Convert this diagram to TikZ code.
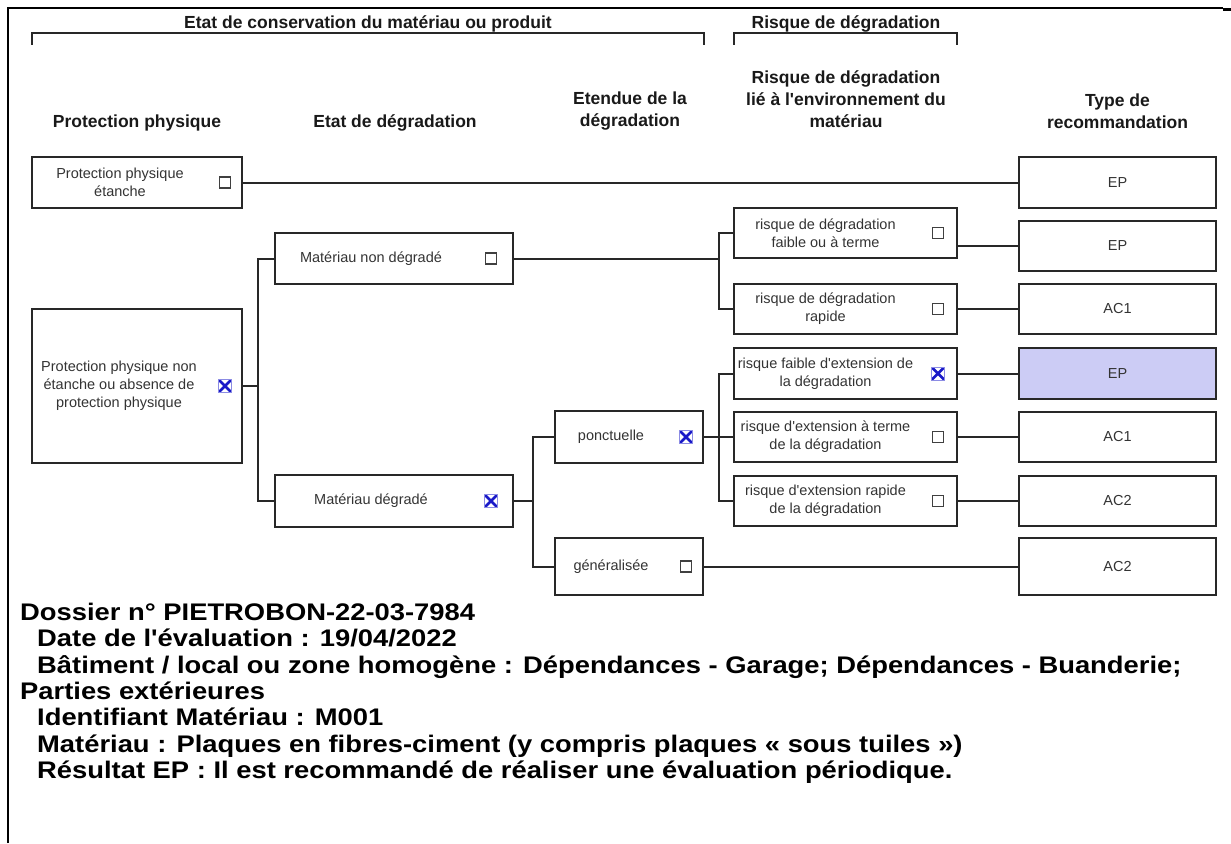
\documentclass[tikz,border=0pt]{standalone}
\usepackage{fontspec}
\setmainfont{Liberation Sans}[Ligatures=TeXOff]
\newfontfamily\infofont{Liberation Sans}[FakeStretch=1.14]
\definecolor{chosen}{RGB}{204,204,245}
\definecolor{edge}{RGB}{40,40,40}
\definecolor{tick}{RGB}{25,25,200}

\begin{document}
\begin{tikzpicture}[x=1pt,y=-1pt,
  box/.style={draw=edge, line width=2pt, inner sep=0, font=\fontsize{14.5}{18}\selectfont, text=black!80},
  boxtext/.style={align=center, inner sep=0, font=\fontsize{14.5}{18}\selectfont, text=black!80},
  head/.style={align=center, inner sep=0, font=\bfseries\fontsize{17.5}{22}\selectfont, text=black!90},
  chk/.style={draw=black!75, line width=1.2pt, minimum size=11, inner sep=0},
  chkx/.style={draw=tick!50, line width=1pt, minimum size=13, inner sep=0,
    path picture={\draw[tick, line width=2.8pt] (path picture bounding box.north west) -- (path picture bounding box.south east)
      (path picture bounding box.north east) -- (path picture bounding box.south west);}},
  conn/.style={draw=edge, line width=2pt},
  info/.style={align=left, inner sep=0, font=\infofont\bfseries\fontsize{24}{26.3}\selectfont}
]

\useasboundingbox (0,0) rectangle (1231,843);

\draw[black, line width=2pt] (8,843) -- (8,8) -- (1223,8);
\draw[black, line width=3pt] (1223,9.5) -- (1231,9.5);

\node[head, anchor=base] (cons) at (368,29) {Etat de conservation du matériau ou produit};
\node[head, anchor=base] (risk) at (846,29) {Risque de dégradation};
\draw[conn] (32,45) |- (704,33) -- (704,45);
\draw[conn] (734,45) |- (957,33) -- (957,45);

\node[head] (h1) at (137,122.5) {Protection physique};
\node[head] (h2) at (395,122.5) {Etat de dégradation};
\node[head] (h3) at (630,111.5) {Etendue de la\\dégradation};
\node[head] (h4) at (846,99) {Risque de dégradation\\lié à l'environnement du\\matériau};
\node[head] (h5) at (1117.5,111.5) {Type de\\recommandation};

\node[box, minimum width=210, minimum height=51] (ppE) at (137,182.5) {};
\node[boxtext] (ppEtxt) at ([xshift=-17]ppE.center) {Protection physique\\étanche};
\node[chk] (ppEchk) at ([xshift=-18]ppE.east) {};

\node[box, minimum width=210, minimum height=154] (ppN) at (137,386) {};
\node[boxtext] (ppNtxt) at ([xshift=-18]ppN.center) {Protection physique non\\étanche ou absence de\\protection physique};
\node[chkx] (ppNchk) at ([xshift=-18]ppN.east) {};

\node[box, minimum width=238, minimum height=51] (mnd) at (394,258.5) {};
\node[boxtext] (mndtxt) at ([xshift=-23]mnd.center) {Matériau non dégradé};
\node[chk] (mndchk) at ([xshift=-23]mnd.east) {};

\node[box, minimum width=238, minimum height=52] (md) at (394,501) {};
\node[boxtext] (mdtxt) at ([xshift=-23]md.center) {Matériau dégradé};
\node[chkx] (mdchk) at ([xshift=-23]md.east) {};

\node[box, minimum width=148, minimum height=52] (ponc) at (629,437) {};
\node[boxtext] (ponctxt) at ([xshift=-18]ponc.center) {ponctuelle};
\node[chkx] (poncchk) at ([xshift=-18]ponc.east) {};

\node[box, minimum width=148, minimum height=57] (gen) at (629,566.5) {};
\node[boxtext] (gentxt) at ([xshift=-18]gen.center) {généralisée};
\node[chk] (genchk) at ([xshift=-18]gen.east) {};

\node[box, minimum width=223, minimum height=50] (r1) at (845.5,233) {};
\node[boxtext] (r1txt) at ([xshift=-20]r1.center) {risque de dégradation\\faible ou à terme};
\node[chk] (r1chk) at ([xshift=-20]r1.east) {};

\node[box, minimum width=223, minimum height=50] (r2) at (845.5,309) {};
\node[boxtext] (r2txt) at ([xshift=-20]r2.center) {risque de dégradation\\rapide};
\node[chk] (r2chk) at ([xshift=-20]r2.east) {};

\node[box, minimum width=223, minimum height=51] (r3) at (845.5,373.5) {};
\node[boxtext] (r3txt) at ([xshift=-20]r3.center) {risque faible d'extension de\\la dégradation};
\node[chkx] (r3chk) at ([xshift=-20]r3.east) {};

\node[box, minimum width=223, minimum height=50] (r4) at (845.5,437) {};
\node[boxtext] (r4txt) at ([xshift=-20]r4.center) {risque d'extension à terme\\de la dégradation};
\node[chk] (r4chk) at ([xshift=-20]r4.east) {};

\node[box, minimum width=223, minimum height=50] (r5) at (845.5,501) {};
\node[boxtext] (r5txt) at ([xshift=-20]r5.center) {risque d'extension rapide\\de la dégradation};
\node[chk] (r5chk) at ([xshift=-20]r5.east) {};

\node[box, minimum width=197, minimum height=51] (t1) at (1117.5,182.5) {EP};
\node[box, minimum width=197, minimum height=50] (t2) at (1117.5,246) {EP};
\node[box, minimum width=197, minimum height=50] (t3) at (1117.5,309) {AC1};
\node[box, minimum width=197, minimum height=51, fill=chosen] (t4) at (1117.5,373.5) {EP};
\node[box, minimum width=197, minimum height=50] (t5) at (1117.5,437) {AC1};
\node[box, minimum width=197, minimum height=50] (t6) at (1117.5,501) {AC2};
\node[box, minimum width=197, minimum height=57] (t7) at (1117.5,566.5) {AC2};

\draw[conn] (ppE.east) -- (t1.west);
\draw[conn] (mnd.west) -- ++(-16.5,0) |- (ppN.east);
\draw[conn] (md.west) -- ++(-16.5,0) |- (ppN.east);
\draw[conn] (r1.west) -- ++(-14,0) |- (mnd.east);
\draw[conn] (r2.west) -- ++(-14,0) |- (mnd.east);
\draw[conn] (ponc.west) -- ++(-21.5,0) |- (md.east);
\draw[conn] (gen.west) -- ++(-21.5,0) |- (md.east);
\draw[conn] (r3.west) -- ++(-14,0) |- (ponc.east);
\draw[conn] (r4.west) -- ++(-14,0) |- (ponc.east);
\draw[conn] (r5.west) -- ++(-14,0) |- (ponc.east);
\draw[conn] (r1.east |- t2.west) -- (t2.west);
\draw[conn] (r2.east) -- (t3.west);
\draw[conn] (r3.east) -- (t4.west);
\draw[conn] (r4.east) -- (t5.west);
\draw[conn] (r5.east) -- (t6.west);
\draw[conn] (gen.east) -- (t7.west);

\node[info, anchor=north west] (info) at (20,603) {Dossier n° PIETROBON-22-03-7984\\
\hspace*{17pt}Date de l'évaluation : 19/04/2022\\
\hspace*{17pt}Bâtiment / local ou zone homogène : Dépendances - Garage; Dépendances - Buanderie;\\
Parties extérieures\\
\hspace*{17pt}Identifiant Matériau : M001\\
\hspace*{17pt}Matériau : Plaques en fibres-ciment (y compris plaques « sous tuiles »)\\
\hspace*{17pt}Résultat EP : Il est recommandé de réaliser une évaluation périodique.};

\end{tikzpicture}
\end{document}
